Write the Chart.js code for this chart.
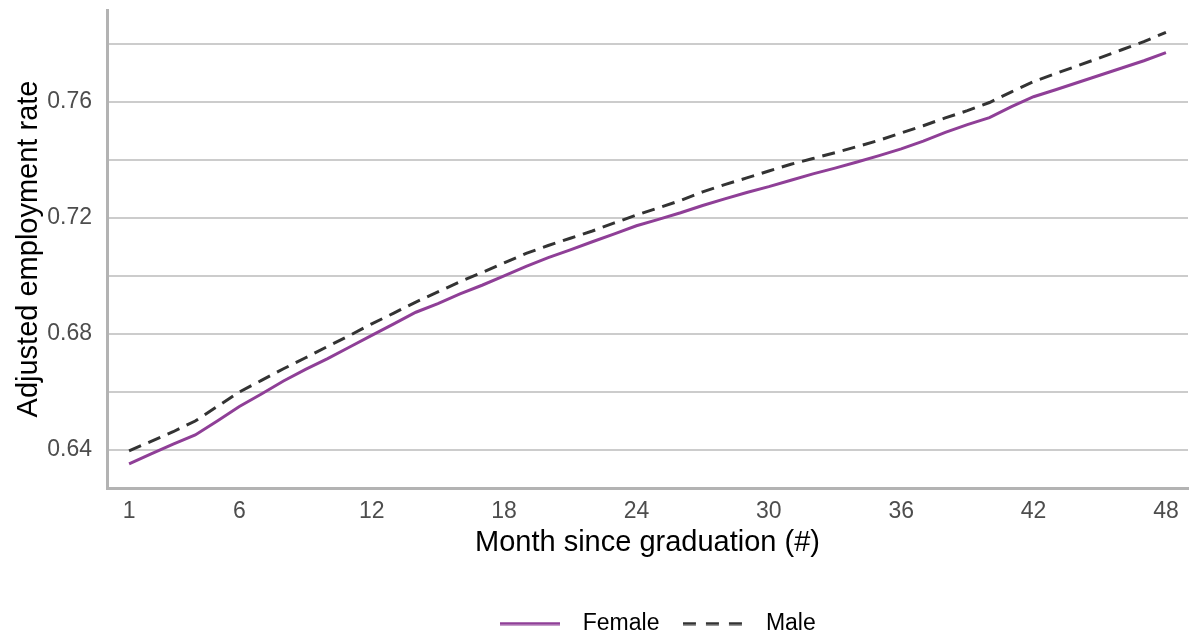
<!DOCTYPE html>
<html>
<head>
<meta charset="utf-8">
<script src="https://cdn.jsdelivr.net/npm/chart.js@4"></script>
<style>
  html, body { margin: 0; padding: 0; background: #fff; }
  #chart { display: block; }
</style>
</head>
<body>
<canvas id="chart" width="1195" height="639"></canvas>
<script>
const months = [1, 2, 3, 4, 5, 6, 7, 8, 9, 10, 11, 12, 13, 14, 15, 16, 17, 18, 19, 20, 21, 22, 23, 24,
    25, 26, 27, 28, 29, 30, 31, 32, 33, 34, 35, 36, 37, 38, 39, 40, 41, 42, 43, 44, 45, 46, 47, 48];

const female = [0.6352, 0.6387, 0.6420, 0.6452, 0.6500, 0.6550, 0.6593, 0.6638, 0.6678, 0.6715, 0.6755, 0.6795,
    0.6835, 0.6875, 0.6905, 0.6938, 0.6968, 0.7000, 0.7033, 0.7063, 0.7090, 0.7118, 0.7145, 0.7173,
    0.7195, 0.7218, 0.7243, 0.7266, 0.7288, 0.7308, 0.7330, 0.7352, 0.7372, 0.7393, 0.7415, 0.7438,
    0.7465, 0.7495, 0.7522, 0.7546, 0.7584, 0.7618, 0.7642, 0.7667, 0.7692, 0.7717, 0.7742, 0.7770];

const male = [0.6397, 0.6430, 0.6463, 0.6500, 0.6550, 0.6600, 0.6640, 0.6680, 0.6718, 0.6757, 0.6795, 0.6835,
    0.6872, 0.6910, 0.6945, 0.6980, 0.7012, 0.7045, 0.7078, 0.7105, 0.7130, 0.7155, 0.7183, 0.7210,
    0.7235, 0.7260, 0.7290, 0.7315, 0.7338, 0.7362, 0.7385, 0.7405, 0.7425, 0.7446, 0.7468, 0.7493,
    0.7518, 0.7545, 0.7570, 0.7598, 0.7635, 0.7670, 0.7698, 0.7725, 0.7752, 0.7780, 0.7808, 0.7840];

const xTicks = [1, 6, 12, 18, 24, 30, 36, 42, 48];
const yLabels = [0.64, 0.68, 0.72, 0.76];

const font = "'Liberation Sans', Arial, sans-serif";
const purple = '#8f3f97';
const dark = '#333333';

const toPoints = values => values.map((v, i) => ({ x: months[i], y: v }));

// little line samples for the legend, so the male one keeps its dashes
function swatch(color, dash) {
    const c = document.createElement('canvas');
    c.width = 60;
    c.height = 4;
    const ctx = c.getContext('2d');
    ctx.strokeStyle = color;
    ctx.lineWidth = 3;
    ctx.setLineDash(dash);
    ctx.beginPath();
    ctx.moveTo(0, 2);
    ctx.lineTo(60, 2);
    ctx.stroke();
    return c;
}

const swatches = [swatch(purple, []), swatch(dark, [13, 10])];

// nudge the legend a bit right, like the original
const legendShift = {
    id: 'legendShift',
    afterLayout(chart) {
        chart.legend.left += 52;
        chart.legend.right += 52;
    }
};

new Chart(document.getElementById('chart'), {
    type: 'line',
    data: {
        datasets: [
            {
                label: 'Female',
                data: toPoints(female),
                borderColor: purple,
                backgroundColor: purple,
                borderWidth: 3,
                pointRadius: 0,
                tension: 0
            },
            {
                label: 'Male',
                data: toPoints(male),
                borderColor: dark,
                backgroundColor: dark,
                borderWidth: 3,
                borderDash: [13, 8],
                pointRadius: 0,
                tension: 0
            }
        ]
    },
    plugins: [legendShift],
    options: {
        responsive: false,
        animation: false,
        devicePixelRatio: 1,
        layout: { padding: { left: 12, right: 7, top: 10, bottom: -6 } },
        scales: {
            x: {
                type: 'linear',
                min: 0,
                max: 49,
                afterBuildTicks: axis => { axis.ticks = xTicks.map(v => ({ value: v })); },
                afterFit: axis => { axis.height = 112; },
                grid: { display: false, drawTicks: false },
                border: { color: '#b3b3b3', width: 3 },
                ticks: {
                    padding: 10,
                    color: '#4d4d4d',
                    font: { family: font, size: 23 },
                    maxRotation: 0,
                    callback: v => v
                },
                title: {
                    display: true,
                    text: 'Month since graduation (#)',
                    color: '#000',
                    font: { family: font, size: 29 },
                    padding: { top: 0, bottom: 40 }
                }
            },
            y: {
                min: 0.6269,
                max: 0.7917,
                afterFit: axis => {
                    axis.width = 95;
                    axis.paddingTop = 0;
                    axis.paddingBottom = 0;
                },
                grid: { color: '#cccccc', lineWidth: 2, drawTicks: false },
                border: { color: '#b3b3b3', width: 3 },
                ticks: {
                    stepSize: 0.02,
                    includeBounds: false,
                    padding: 15,
                    color: '#4d4d4d',
                    font: { family: font, size: 23 },
                    callback: v => yLabels.some(l => Math.abs(l - v) < 1e-6) ? v.toFixed(2) : ''
                },
                title: {
                    display: true,
                    text: 'Adjusted employment rate',
                    color: '#000',
                    font: { family: font, size: 29 },
                    padding: 0
                }
            }
        },
        plugins: {
            legend: {
                position: 'bottom',
                labels: {
                    usePointStyle: true,
                    pointStyleWidth: 83,
                    boxHeight: 12,
                    padding: 12,
                    color: '#000',
                    font: { family: font, size: 23 },
                    generateLabels: chart => Chart.defaults.plugins.legend.labels.generateLabels(chart)
                        .map((item, i) => Object.assign(item, { pointStyle: swatches[i] }))
                }
            },
            tooltip: { enabled: false }
        }
    }
});
</script>
</body>
</html>
